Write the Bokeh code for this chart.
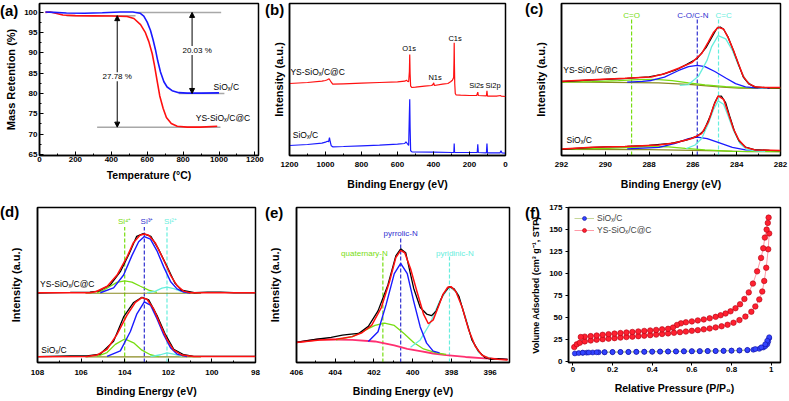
from bokeh.plotting import figure
from bokeh.models import Range1d, FixedTicker, Label, Arrow, NormalHead, Legend, LegendItem, Div
from bokeh.layouts import row, column
from bokeh.embed import file_html
from bokeh.resources import INLINE

FONT = "Liberation Sans"
RED = "#ff1010"
BLUE = "#1a1aff"
GREEN = "#77dd11"
CYAN = "#66eedd"
OLIVE = "#8a8a20"
PINK = "#ff3070"

# ---------------- (a) TGA ----------------
a_T_blue = [33, 80, 150, 250, 350, 450, 520, 560, 581, 600, 618, 633, 646, 659, 674, 693, 711, 739, 776, 823, 900, 1000]
a_M_blue = [100.1, 100.0, 99.85, 99.8, 99.9, 100.1, 100.1, 99.8, 99.1, 97.6, 95.6, 93.2, 90.8, 88.0, 85.3, 82.9, 81.6, 80.7, 80.2, 80.1, 80.1, 80.15]
a_T_red = [33, 60, 90, 130, 200, 300, 400, 488, 526, 563, 590, 609, 628, 641, 656, 670, 689, 707, 734, 767, 823, 897, 990]
a_M_red = [100.0, 100.1, 99.8, 99.35, 99.2, 99.15, 99.1, 99.0, 98.5, 97.0, 95.0, 92.8, 89.8, 86.8, 82.9, 79.4, 76.3, 74.1, 72.6, 71.9, 71.7, 71.7, 71.9]
a_ref_T = [[540, 1012], [150, 535], [776, 1030], [321, 1008]]
a_ref_M = [[100, 100], [99.2, 99.2], [80, 80], [71.7, 71.7]]
a_arrow_T = [433, 850]
a_arrow_top = [99.2, 100.0]
a_arrow_bot = [71.7, 80.0]
a_loss_text = ["27.78 %", "20.03 %"]
a_loss_T = [433, 878]
a_loss_M = [84.1, 90.6]

# ---------------- (b) survey ----------------
b_E_red = [1200, 1100, 1020, 1000, 990, 980, 975, 968, 960, 900, 800, 700, 600, 560, 550, 545, 538, 534, 532, 530, 527, 520, 500, 450, 410, 402, 399, 395, 350, 320, 305, 295, 288, 286, 285, 283.5, 282, 279, 275, 250, 200, 160, 154, 151, 106, 103, 100, 50, 27, 24, 0]
b_I_red = [72.0, 73.0, 74.3, 75.0, 75.7, 76.7, 75.3, 73.3, 71.3, 71.7, 72.3, 73.0, 73.7, 74.3, 75.3, 74.3, 73.7, 83.7, 101.0, 82.0, 69.3, 68.0, 68.3, 69.3, 70.0, 71.3, 72.7, 70.0, 71.3, 72.0, 73.7, 75.3, 78.0, 95.3, 112.7, 88.7, 72.0, 62.0, 60.7, 60.3, 60.0, 60.0, 63.3, 60.0, 59.7, 64.7, 59.3, 59.3, 60.0, 59.3, 59.0]
b_E_blue = [1200, 1100, 1020, 1000, 990, 983, 978, 974, 968, 960, 900, 800, 700, 600, 560, 553, 546, 538, 534, 532, 530, 527, 520, 400, 300, 287, 285, 283, 250, 157, 154, 151, 106, 103, 100, 30, 25, 20, 0]
b_I_blue = [10.0, 11.0, 12.3, 13.3, 14.3, 13.7, 18.0, 14.0, 9.7, 8.7, 9.0, 9.7, 10.3, 11.3, 12.0, 13.7, 12.0, 10.0, 42.0, 56.3, 28.7, 4.7, 3.7, 3.3, 3.0, 3.0, 12.0, 3.0, 3.0, 3.0, 11.3, 3.0, 2.7, 12.0, 2.7, 2.7, 4.7, 2.7, 2.3]
b_peak_text = ["O1s", "C1s", "N1s", "Si2s", "Si2p"]
b_peak_E = [536, 280, 391, 161, 69]
b_peak_I = [107.0, 117.0, 77.7, 70.3, 70.3]

# ---------------- (c) C1s ----------------
c_E_top_red = [292.0, 290.6, 289.1, 287.9, 287.3, 286.65, 286.05, 285.6, 285.3, 285.05, 284.85, 284.6, 284.4, 284.15, 283.9, 283.7, 283.45, 283.15, 282.7, 282.0]
c_I_top_red = [75.7, 77.3, 78.7, 80.0, 83.3, 89.0, 94.7, 104.0, 115.7, 125.7, 130.7, 129.0, 120.7, 107.3, 92.3, 80.7, 73.3, 70.0, 69.3, 69.3]
c_E_top_raw = [292.0, 291.0, 290.0, 289.0, 288.0, 287.4, 286.8, 286.3, 285.8, 285.4, 285.1, 284.9, 284.75, 284.6, 284.4, 284.15, 283.9, 283.7, 283.45, 283.15, 282.7, 282.0]
c_I_top_raw = [75.3, 76.7, 77.7, 78.7, 80.3, 82.7, 87.0, 92.7, 99.0, 110.0, 122.0, 129.7, 131.0, 128.7, 121.0, 107.0, 92.0, 80.0, 73.0, 69.7, 69.3, 69.0]
c_E_top_blue = [289.0, 288.3, 287.9, 287.3, 286.65, 286.2, 285.8, 285.45, 285.0, 284.5, 284.05, 283.6, 283.15, 282.5]
c_I_top_blue = [74.8, 75.5, 76.5, 80.0, 86.7, 90.7, 92.0, 90.7, 85.7, 79.0, 73.3, 70.0, 69.0, 68.4]
c_E_top_cyan = [286.6, 286.2, 285.75, 285.35, 285.15, 284.85, 284.5, 284.2, 283.9, 283.6, 283.3, 283.0, 282.6]
c_I_top_cyan = [71.5, 72.3, 80.7, 97.3, 110.7, 122.3, 119.0, 107.3, 90.7, 77.3, 71.3, 69.3, 68.5]
c_E_top_green = [292.0, 290.6, 289.4, 288.5, 287.7, 286.95, 286.2, 285.45, 284.5, 283.6, 282.0]
c_I_top_green = [74.7, 75.3, 76.3, 77.3, 77.7, 76.3, 74.0, 72.0, 70.3, 69.3, 68.7]
c_E_top_bg = [292.0, 287.56, 286.04, 284.83, 283.9, 282.0]
c_I_top_bg = [75.0, 74.0, 72.3, 70.0, 68.7, 68.3]
c_E_bot_red = [292.0, 290.6, 289.1, 287.55, 286.8, 286.05, 285.6, 285.3, 285.05, 284.85, 284.6, 284.4, 284.15, 283.9, 283.6, 283.15, 282.0]
c_I_bot_red = [6.7, 8.3, 9.3, 10.7, 13.0, 17.3, 22.3, 34.0, 50.7, 60.7, 57.3, 44.0, 27.3, 15.7, 8.3, 5.7, 5.0]
c_E_bot_raw = [292.0, 291.0, 290.0, 289.0, 288.0, 287.0, 286.3, 285.8, 285.5, 285.2, 285.0, 284.85, 284.7, 284.5, 284.3, 284.1, 283.9, 283.6, 283.2, 282.5, 282.0]
c_I_bot_raw = [6.3, 7.7, 8.7, 9.3, 10.3, 12.3, 15.7, 19.7, 25.3, 40.7, 54.0, 60.3, 60.7, 53.7, 38.7, 24.7, 15.0, 8.7, 6.0, 5.3, 5.0]
c_E_bot_blue = [289.0, 287.55, 286.8, 286.2, 285.8, 285.35, 284.85, 284.2, 283.6, 283.0]
c_I_bot_blue = [6.7, 8.3, 12.3, 17.3, 18.7, 17.3, 13.3, 8.3, 5.7, 5.0]
c_E_bot_cyan = [286.3, 285.9, 285.6, 285.3, 285.05, 284.85, 284.6, 284.4, 284.15, 283.85, 283.55, 283.15, 282.7]
c_I_bot_cyan = [7.0, 10.7, 17.3, 32.3, 47.3, 55.7, 52.3, 40.7, 25.7, 12.3, 6.3, 4.7, 4.3]
c_E_bot_green = [292.0, 289.85, 288.3, 287.25, 286.35, 285.45, 284.2, 282.0]
c_I_bot_green = [6.7, 7.3, 8.7, 9.0, 7.3, 5.7, 4.3, 4.0]
c_E_bot_bg = [292.0, 288.0, 286.0, 284.8, 283.5, 282.0]
c_I_bot_bg = [6.3, 6.0, 5.3, 4.7, 4.0, 3.8]
c_marker_E = [288.8, 285.8, 284.83]
c_marker_text = ["C=O", "C-O/C-N", "C=C"]
c_marker_text_E = [288.8, 286.0, 284.6]

# ---------------- (d) Si2p ----------------
d_E_top_red = [108.0, 105.6, 105.3, 104.8, 104.35, 103.9, 103.6, 103.3, 103.1, 102.9, 102.6, 102.2, 101.9, 101.6, 101.3, 101.0, 98.0]
d_I_top_red = [72.0, 72.0, 73.3, 78.7, 90.3, 108.7, 123.7, 131.3, 132.7, 131.3, 123.7, 105.3, 90.3, 79.3, 73.7, 72.0, 72.0]
d_E_top_raw = [108.0, 106.5, 105.6, 105.2, 104.65, 104.2, 103.8, 103.45, 103.15, 102.8, 102.45, 102.05, 101.7, 101.4, 100.8, 100.2, 99.6, 99.0, 98.0]
d_I_top_raw = [71.7, 72.3, 72.7, 73.7, 80.3, 93.7, 112.0, 130.3, 133.0, 130.3, 117.0, 98.7, 82.0, 74.7, 72.0, 72.7, 72.7, 72.0, 72.0]
d_E_top_blue = [105.12, 104.51, 104.05, 103.67, 103.36, 103.1, 102.82, 102.52, 102.21, 101.9, 101.6, 101.29, 100.99]
d_I_top_blue = [72.0, 77.0, 90.3, 110.3, 124.7, 130.0, 127.3, 115.3, 98.7, 83.7, 76.0, 72.7, 71.7]
d_E_top_green = [105.27, 104.97, 104.66, 104.36, 104.0, 103.67, 103.28, 102.9, 102.52]
d_I_top_green = [72.0, 74.7, 78.7, 82.7, 84.3, 83.0, 78.7, 74.7, 72.3]
d_E_top_cyan = [102.98, 102.59, 102.29, 102.06, 101.75, 101.45, 101.14]
d_I_top_cyan = [72.0, 73.7, 76.7, 77.7, 76.3, 73.7, 72.0]
d_E_top_bg = [105.8, 100.5]
d_I_top_bg = [71.5, 71.5]
d_E_bot_red = [108.0, 105.73, 105.27, 104.81, 104.36, 103.9, 103.51, 103.21, 102.98, 102.67, 102.36, 102.06, 101.75, 101.37, 100.83, 98.0]
d_I_bot_red = [6.0, 6.3, 7.7, 13.7, 28.7, 48.7, 62.0, 67.0, 65.3, 55.3, 38.7, 23.7, 12.7, 7.7, 6.3, 6.3]
d_E_bot_raw = [108.0, 106.5, 105.73, 105.12, 104.51, 104.05, 103.59, 103.21, 102.9, 102.52, 102.13, 101.75, 101.29, 100.83, 99.5, 98.0]
d_I_bot_raw = [6.0, 6.7, 6.7, 8.7, 22.0, 47.0, 62.0, 67.3, 64.7, 48.7, 28.7, 13.7, 8.0, 6.3, 6.3, 6.3]
d_E_bot_blue = [104.81, 104.2, 103.74, 103.44, 103.1, 102.82, 102.52, 102.21, 101.9, 101.6, 101.14]
d_I_bot_blue = [6.3, 12.0, 32.0, 50.3, 62.7, 59.3, 45.3, 28.7, 15.3, 8.7, 6.0]
d_E_bot_green = [105.27, 104.81, 104.43, 104.0, 103.59, 103.21, 102.82, 102.44]
d_I_bot_green = [6.3, 10.3, 18.7, 24.3, 20.3, 12.7, 8.0, 6.0]
d_E_bot_cyan = [102.82, 102.36, 102.06, 101.75, 101.37]
d_I_bot_cyan = [6.0, 8.0, 10.0, 8.7, 6.3]
d_E_bot_bg = [105.8, 100.5]
d_I_bot_bg = [5.8, 5.8]
d_marker_E = [104.0, 103.1, 102.06]
d_marker_text = ["Si⁴⁺", "Si³⁺", "Si²⁺"]
d_marker_text_E = [104.0, 102.98, 101.9]

# ---------------- (e) N1s ----------------
e_E_red = [406.0, 404.8, 403.96, 403.12, 402.62, 402.12, 401.62, 401.2, 400.87, 400.62, 400.41, 400.11, 399.78, 399.44, 399.19, 398.94, 398.69, 398.44, 398.19, 398.02, 397.77, 397.44, 397.1, 396.77, 396.43, 396.1, 395.6, 395.1]
e_I_red = [20.7, 23.3, 24.0, 26.7, 30.7, 38.3, 56.7, 83.3, 108.3, 115.7, 113.3, 96.7, 73.3, 50.0, 40.0, 44.0, 56.7, 70.0, 77.7, 78.3, 73.3, 56.7, 33.3, 16.7, 7.7, 4.7, 3.3, 2.7]
e_E_raw = [406.0, 405.63, 404.96, 404.21, 403.63, 403.29, 402.79, 402.29, 401.79, 401.28, 400.87, 400.62, 400.36, 399.95, 399.61, 399.28, 399.03, 398.78, 398.44, 398.11, 397.86, 397.61, 397.27, 396.94, 396.6, 396.27, 395.93, 395.6, 395.1]
e_I_raw = [20.7, 22.0, 24.0, 26.0, 28.3, 29.0, 30.0, 37.3, 53.3, 80.0, 110.0, 117.3, 113.3, 76.7, 56.7, 50.0, 48.3, 53.3, 70.0, 78.3, 76.0, 68.3, 45.0, 23.3, 11.7, 5.0, 3.3, 4.0, 3.3]
e_E_blue = [402.29, 401.79, 401.37, 400.95, 400.62, 400.28, 399.95, 399.61, 399.28, 398.94, 398.61]
e_I_blue = [21.7, 31.7, 60.0, 91.7, 102.3, 91.7, 63.3, 36.7, 20.0, 11.7, 10.0]
e_E_green = [403.96, 403.12, 402.45, 401.95, 401.45, 400.95, 400.45, 399.95, 399.44, 398.78, 398.27]
e_I_green = [23.3, 26.7, 33.3, 38.3, 40.7, 38.3, 30.0, 20.7, 14.0, 10.0, 8.3]
e_E_cyan = [400.11, 399.61, 399.11, 398.61, 398.11, 397.69, 397.27, 396.94, 396.6, 396.27, 395.93]
e_I_cyan = [15.7, 23.3, 40.0, 63.3, 78.3, 71.7, 46.7, 23.3, 10.7, 6.0, 4.3]
e_E_bg = [406.0, 404.8, 403.12, 401.95, 400.95, 400.28, 399.61, 398.94, 398.27, 397.27, 396.27, 395.1]
e_I_bg = [20.7, 24.0, 23.3, 21.7, 17.7, 14.0, 11.7, 9.3, 7.7, 5.7, 4.3, 3.3]
e_marker_E = [401.54, 400.62, 398.1]
e_marker_top = [110.0, 130.0, 110.0]
e_marker_text = ["quaternary-N", "pyrrolic-N", "pyridinic-N"]
e_marker_text_E = [402.49, 400.62, 397.82]
e_marker_text_I = [112.7, 133.3, 112.7]

# ---------------- (f) N2 isotherms ----------------
f_P_blue_ads = [0.01, 0.03, 0.05, 0.07, 0.1, 0.13, 0.16, 0.2, 0.24, 0.28, 0.32, 0.36, 0.4, 0.44, 0.48, 0.52, 0.56, 0.6, 0.64, 0.68, 0.72, 0.76, 0.8, 0.84, 0.88, 0.91, 0.94, 0.96, 0.97, 0.98, 0.985, 0.99]
f_V_blue_ads = [9.6, 10.0, 10.3, 10.5, 10.7, 10.9, 11.0, 11.1, 11.2, 11.3, 11.4, 11.5, 11.6, 11.7, 11.8, 11.9, 12.0, 12.1, 12.2, 12.3, 12.4, 12.5, 12.7, 12.9, 13.3, 13.8, 14.8, 16.3, 17.8, 20.0, 23.0, 27.0]
f_P_blue_des = [0.99, 0.98, 0.97, 0.95, 0.92, 0.88, 0.84, 0.8, 0.76, 0.72, 0.68, 0.64, 0.6, 0.56, 0.52, 0.48, 0.44, 0.4, 0.36, 0.32, 0.28, 0.24, 0.2, 0.16, 0.12, 0.08, 0.05]
f_V_blue_des = [28.0, 24.0, 20.0, 16.5, 14.6, 13.6, 13.1, 12.8, 12.6, 12.4, 12.3, 12.2, 12.1, 12.0, 11.9, 11.8, 11.7, 11.6, 11.5, 11.4, 11.3, 11.2, 11.1, 11.0, 10.9, 10.7, 10.5]
f_P_red_ads = [0.007, 0.02, 0.035, 0.06, 0.09, 0.12, 0.15, 0.18, 0.21, 0.24, 0.27, 0.3, 0.33, 0.36, 0.39, 0.42, 0.45, 0.48, 0.51, 0.54, 0.57, 0.6, 0.63, 0.66, 0.69, 0.72, 0.75, 0.78, 0.81, 0.84, 0.87, 0.9, 0.92, 0.94, 0.955, 0.965, 0.975, 0.985, 0.99]
f_V_red_ads = [16.8, 20.0, 21.8, 23.3, 24.3, 25.2, 25.8, 26.4, 27.0, 27.6, 28.2, 28.7, 29.2, 29.8, 30.4, 31.0, 31.7, 32.4, 33.1, 33.8, 34.5, 35.3, 36.1, 37.0, 38.0, 39.2, 40.5, 42.2, 44.5, 47.5, 51.5, 57.0, 63.0, 71.0, 80.0, 92.0, 107.0, 128.0, 146.0]
f_P_red_des = [0.987, 0.983, 0.977, 0.968, 0.96, 0.949, 0.929, 0.908, 0.887, 0.865, 0.843, 0.82, 0.795, 0.77, 0.745, 0.72, 0.69, 0.66, 0.63, 0.6, 0.57, 0.545, 0.525, 0.505, 0.48, 0.45, 0.42, 0.39, 0.36, 0.33, 0.3, 0.27, 0.24, 0.21, 0.18, 0.15, 0.12, 0.09, 0.06, 0.04]
f_V_red_des = [164.0, 158.0, 150.4, 141.3, 129.2, 118.2, 102.9, 89.0, 79.0, 71.5, 65.5, 61.0, 57.5, 55.0, 53.0, 51.2, 49.6, 48.2, 47.1, 46.0, 45.0, 43.8, 42.0, 39.0, 37.6, 37.0, 36.3, 35.7, 35.2, 34.6, 34.0, 33.4, 32.8, 32.2, 31.5, 30.8, 30.0, 29.3, 28.7, 28.3]

LAB_TOP = "YS-SiOₓ/C@C"
LAB_BOT = "SiOₓ/C"

panel_names = ["(a)", "(b)", "(c)", "(d)", "(e)", "(f)"]
panel_left = [0, 265, 525, 0, 265, 525]
panel_top = [2, 1, 0, 203, 204, 204]


def make_fig(w, h, bl, br, bt, bb, xr, yr, xlabel, ylabel):
    p = figure(width=w, height=h, x_range=Range1d(*xr), y_range=Range1d(*yr),
               output_backend="svg", toolbar_location=None,
               min_border_left=bl, min_border_right=br, min_border_top=bt, min_border_bottom=bb)
    p.grid.visible = False
    p.outline_line_color = "black"
    p.outline_line_width = 1.5
    p.outline_line_alpha = 1.0
    p.background_fill_color = "white"
    p.border_fill_color = "white"
    for ax in (p.xaxis[0], p.yaxis[0]):
        ax.axis_line_width = 1.5
        ax.axis_line_color = "black"
        ax.major_label_text_font = FONT
        ax.major_label_text_font_style = "bold"
        ax.major_label_text_font_size = "8px"
        ax.major_label_text_color = "black"
        ax.axis_label_text_font = FONT
        ax.axis_label_text_font_style = "bold"
        ax.axis_label_text_color = "black"
        ax.major_tick_in = 4
        ax.major_tick_out = 0
        ax.minor_tick_in = 2
        ax.minor_tick_out = 0
        ax.major_tick_line_color = "black"
        ax.minor_tick_line_color = "black"
    p.xaxis[0].axis_label = xlabel
    p.yaxis[0].axis_label = ylabel
    p.xaxis[0].axis_label_text_font_size = "10.5px"
    p.yaxis[0].axis_label_text_font_size = "11px"
    return p


def hide_y(p, standoff):
    ax = p.yaxis[0]
    ax.ticker = FixedTicker(ticks=[], minor_ticks=[])
    ax.major_label_text_font_size = "0px"
    ax.major_label_standoff = 0
    ax.axis_label_standoff = standoff


def txt(p, x, y, s, color="black", size="8.5px", align="left", bold=False, bg=None):
    lab = Label(x=x, y=y, text=s, text_color=color, text_font=FONT, text_font_size=size,
                text_align=align, text_baseline="middle",
                text_font_style="bold" if bold else "normal")
    if bg is not None:
        lab.background_fill_color = bg
    p.add_layout(lab)


# ---- (a)
pa = make_fig(265, 200, 39, 7, 3, 37, (0, 1220), (64.7, 102.2), "Temperature (°C)", "Mass Retention (%)")
pa.xaxis[0].ticker = FixedTicker(ticks=[0, 200, 400, 600, 800, 1000, 1200], minor_ticks=[100, 300, 500, 700, 900, 1100])
pa.yaxis[0].ticker = FixedTicker(ticks=[65, 70, 75, 80, 85, 90, 95, 100], minor_ticks=[67.5, 72.5, 77.5, 82.5, 87.5, 92.5, 97.5])
pa.xaxis[0].major_label_standoff = 1
pa.xaxis[0].axis_label_standoff = 4
pa.yaxis[0].major_label_standoff = 2
pa.yaxis[0].axis_label_standoff = 4
pa.multi_line(a_ref_T, a_ref_M, line_color="#a8a8a8", line_width=1.5)
pa.line(a_T_red, a_M_red, line_color=RED, line_width=1.6)
pa.line(a_T_blue, a_M_blue, line_color=BLUE, line_width=1.6)
for i in range(2):
    pa.add_layout(Arrow(x_start=a_arrow_T[i], y_start=a_arrow_top[i], x_end=a_arrow_T[i], y_end=a_arrow_bot[i],
                        line_color="black", line_width=1,
                        start=NormalHead(size=5, fill_color="black", line_color="black"),
                        end=NormalHead(size=5, fill_color="black", line_color="black")))
    txt(pa, a_loss_T[i], a_loss_M[i], a_loss_text[i], size="8px", align="center", bg="white")
txt(pa, 970, 81.6, LAB_BOT, size="8.5px")
txt(pa, 1022, 73.9, LAB_TOP, size="8.5px", align="center")

# ---- (b)
pb = make_fig(260, 200, 24, 20, 3, 45, (1200, 0), (0, 152), "Binding Energy (eV)", "Intensity (a.u.)")
pb.xaxis[0].ticker = FixedTicker(ticks=[0, 200, 400, 600, 800, 1000, 1200], minor_ticks=[100, 300, 500, 700, 900, 1100])
pb.xaxis[0].major_label_standoff = 6
pb.xaxis[0].axis_label_standoff = 8
hide_y(pb, 5)
pb.line(b_E_red, b_I_red, line_color=RED, line_width=1.2)
pb.line(b_E_blue, b_I_blue, line_color=BLUE, line_width=1.2)
txt(pb, 1195, 83.7, LAB_TOP)
txt(pb, 1182, 20.3, LAB_BOT)
for i in range(len(b_peak_text)):
    txt(pb, b_peak_E[i], b_peak_I[i], b_peak_text[i], size="7.5px", align="center")

# ---- (c)
pc = make_fig(264, 200, 36, 9, 2, 43, (292, 282), (0, 155), "Binding Energy (eV)", "Intensity (a.u.)")
pc.xaxis[0].ticker = FixedTicker(ticks=[282, 284, 286, 288, 290, 292], minor_ticks=[283, 285, 287, 289, 291])
pc.xaxis[0].major_label_standoff = 6
pc.xaxis[0].axis_label_standoff = 8
hide_y(pc, 15)
mcol = [GREEN, "#3030d0", CYAN]
for i in range(3):
    pc.line([c_marker_E[i], c_marker_E[i]], [0, 139], line_color=mcol[i], line_width=1.2, line_dash="4 2")
    txt(pc, c_marker_text_E[i], 142.3, c_marker_text[i], color=mcol[i], size="8px", align="center")
for (ex, iy, col, lw) in [
    (c_E_top_bg, c_I_top_bg, OLIVE, 1.2), (c_E_top_green, c_I_top_green, GREEN, 1.2),
    (c_E_top_blue, c_I_top_blue, BLUE, 1.3), (c_E_top_cyan, c_I_top_cyan, CYAN, 1.3),
    (c_E_top_raw, c_I_top_raw, "black", 1.2), (c_E_top_red, c_I_top_red, RED, 1.5),
    (c_E_bot_bg, c_I_bot_bg, OLIVE, 1.2), (c_E_bot_green, c_I_bot_green, GREEN, 1.2),
    (c_E_bot_blue, c_I_bot_blue, BLUE, 1.3), (c_E_bot_cyan, c_I_bot_cyan, CYAN, 1.3),
    (c_E_bot_raw, c_I_bot_raw, "black", 1.2), (c_E_bot_red, c_I_bot_red, RED, 1.5)]:
    pc.line(ex, iy, line_color=col, line_width=lw)
txt(pc, 291.92, 86.7, LAB_TOP)
txt(pc, 291.77, 16.3, LAB_BOT)

# ---- (d)
pd_ = make_fig(265, 201, 37, 10, 3, 39, (108, 98), (0, 160), "Binding Energy (eV)", "Intensity (a.u.)")
pd_.xaxis[0].ticker = FixedTicker(ticks=[98, 100, 102, 104, 106, 108], minor_ticks=[99, 101, 103, 105, 107])
pd_.xaxis[0].major_label_standoff = 7
pd_.xaxis[0].axis_label_standoff = 7
hide_y(pd_, 16)
for i in range(3):
    pd_.line([d_marker_E[i], d_marker_E[i]], [0, 140], line_color=mcol[i], line_width=1.2, line_dash="4 2")
    txt(pd_, d_marker_text_E[i], 145.3, d_marker_text[i], color=mcol[i], size="8px", align="center")
for (ex, iy, col, lw) in [
    (d_E_top_bg, d_I_top_bg, OLIVE, 1.2), (d_E_top_green, d_I_top_green, GREEN, 1.3),
    (d_E_top_cyan, d_I_top_cyan, CYAN, 1.3), (d_E_top_blue, d_I_top_blue, BLUE, 1.4),
    (d_E_top_raw, d_I_top_raw, "black", 1.3), (d_E_top_red, d_I_top_red, RED, 1.5),
    (d_E_bot_bg, d_I_bot_bg, OLIVE, 1.2), (d_E_bot_green, d_I_bot_green, GREEN, 1.3),
    (d_E_bot_cyan, d_I_bot_cyan, CYAN, 1.3), (d_E_bot_blue, d_I_bot_blue, BLUE, 1.4),
    (d_E_bot_raw, d_I_bot_raw, "black", 1.3), (d_E_bot_red, d_I_bot_red, RED, 1.5)]:
    pd_.line(ex, iy, line_color=col, line_width=lw)
txt(pd_, 107.88, 81.0, LAB_TOP)
txt(pd_, 107.83, 12.7, LAB_BOT)

# ---- (e)
pe = make_fig(260, 201, 26, 16, 3, 38, (406, 395), (0, 160), "Binding Energy (eV)", "Intensity (a.u.)")
pe.xaxis[0].ticker = FixedTicker(ticks=[396, 398, 400, 402, 404, 406], minor_ticks=[395, 397, 399, 401, 403, 405])
pe.xaxis[0].major_label_standoff = 7
pe.xaxis[0].axis_label_standoff = 7
hide_y(pe, 16)
ecol = [GREEN, "#3030d0", CYAN]
for i in range(3):
    pe.line([e_marker_E[i], e_marker_E[i]], [0, e_marker_top[i]], line_color=ecol[i], line_width=1.2, line_dash="4 2")
    txt(pe, e_marker_text_E[i], e_marker_text_I[i], e_marker_text[i], color=ecol[i], size="8px", align="center")
for (ex, iy, col, lw) in [
    (e_E_bg, e_I_bg, PINK, 1.8), (e_E_green, e_I_green, GREEN, 1.3),
    (e_E_cyan, e_I_cyan, CYAN, 1.3), (e_E_blue, e_I_blue, BLUE, 1.4),
    (e_E_raw, e_I_raw, "black", 1.3), (e_E_red, e_I_red, RED, 1.5)]:
    pe.line(ex, iy, line_color=col, line_width=lw)

# ---- (f)
pf = make_fig(264, 201, 43, 9, 7, 34, (-0.022, 1.047), (-0.7, 175.5), "Relative Pressure (P/P₀)", "Volume Adsorbed (cm³ g⁻¹, STP)")
pf.xaxis[0].ticker = FixedTicker(ticks=[0.0, 0.2, 0.4, 0.6, 0.8, 1.0], minor_ticks=[])
pf.yaxis[0].ticker = FixedTicker(ticks=[0, 25, 50, 75, 100, 125, 150, 175], minor_ticks=[])
for ax in (pf.xaxis[0], pf.yaxis[0]):
    ax.major_tick_in = 0
    ax.major_tick_out = 3
pf.xaxis[0].major_label_standoff = 1
pf.xaxis[0].axis_label_standoff = 7
pf.yaxis[0].major_label_standoff = 3
pf.yaxis[0].axis_label_standoff = 5
pf.yaxis[0].axis_label_text_font_size = "9px"
lb1 = pf.line(f_P_blue_ads, f_V_blue_ads, line_color="#b8cc80", line_width=0.8)
pf.line(f_P_blue_des, f_V_blue_des, line_color="#b8cc80", line_width=0.8)
sb1 = pf.scatter(f_P_blue_ads, f_V_blue_ads, size=5, fill_color="#3344ff", line_color="#1010a0", line_width=0.6)
pf.scatter(f_P_blue_des, f_V_blue_des, size=5, fill_color="#3344ff", line_color="#1010a0", line_width=0.6)
lr1 = pf.line(f_P_red_ads, f_V_red_ads, line_color="#ff8090", line_width=0.8)
pf.line(f_P_red_des, f_V_red_des, line_color="#ff8090", line_width=0.8)
sr1 = pf.scatter(f_P_red_ads, f_V_red_ads, size=5.5, fill_color="#ff2030", line_color="#b00010", line_width=0.6)
pf.scatter(f_P_red_des, f_V_red_des, size=5.5, fill_color="#ff2030", line_color="#b00010", line_width=0.6)
leg = Legend(items=[LegendItem(label=LAB_BOT, renderers=[lb1, sb1]), LegendItem(label=LAB_TOP, renderers=[lr1, sr1])],
             location="top_left", background_fill_alpha=0, border_line_alpha=0,
             label_text_font=FONT, label_text_font_size="8.5px", glyph_width=20, glyph_height=10,
             spacing=2, padding=2, margin=4, label_standoff=3, label_height=10)
pf.add_layout(leg)

# panel letters, floated over the grid
divs = []
for i in range(6):
    divs.append(Div(text=panel_names[i], width=24, height=18, margin=(0, 0, 0, 0),
                    styles={"position": "absolute", "left": f"{panel_left[i]}px", "top": f"{panel_top[i]}px",
                            "font-family": FONT, "font-size": "15px", "font-weight": "bold",
                            "line-height": "17px", "color": "black", "z-index": "10"}))

layout = column(row(pa, pb, pc), row(pd_, pe, pf), *divs)
open("out.html", "w").write(file_html(layout, INLINE))
